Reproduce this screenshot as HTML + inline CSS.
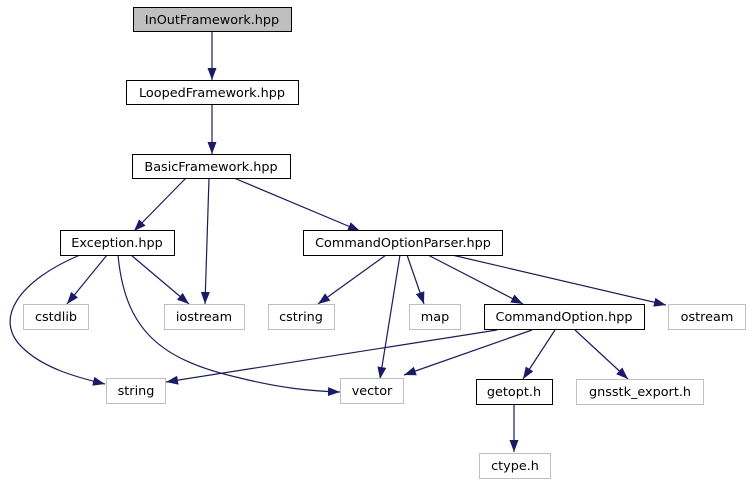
<!DOCTYPE html>
<html><head><meta charset="utf-8"><style>
html,body{margin:0;padding:0;background:#fff;}
svg text{font-family:"DejaVu Sans","Liberation Sans",sans-serif;font-size:12.8px;text-anchor:middle;fill:#000;}
</style></head><body>
<svg width="750" height="485" viewBox="0 0 750 485" xmlns="http://www.w3.org/2000/svg">
<defs>
<marker id="a" viewBox="0 0 12 10" refX="12" refY="5" markerWidth="12" markerHeight="10" markerUnits="userSpaceOnUse" orient="auto">
<path d="M0,0.5 L12,5 L0,9.5 z" fill="#191970"/>
</marker>
</defs>
<g fill="none" stroke="#191970" stroke-width="1.2" marker-end="url(#a)">
<path d="M212,31 L212,80"/>
<path d="M212,104 L212,154"/>
<path d="M186,178 L134,231"/>
<path d="M209,178 L205,304"/>
<path d="M234,178 L360,231"/>
<path d="M107,255 L67,304"/>
<path d="M131,255 L189,304"/>
<path d="M80,255 C20,280 -10,320 25,350 C45,368 75,377 105,384"/>
<path d="M118,255 C125,330 160,360 240,378 C280,388 310,391 340,392"/>
<path d="M386,255 L318,304"/>
<path d="M400,255 L380,379"/>
<path d="M407,255 L424,304"/>
<path d="M428,255 L523,304"/>
<path d="M452,255 L666,305"/>
<path d="M497,330 L166,382"/>
<path d="M532,330 L404,375"/>
<path d="M555,330 L523,379"/>
<path d="M575,330 L628,379"/>
<path d="M514,404 L514,452"/>
</g>
<g stroke-width="1">
<rect x="133.5" y="7.5" width="158" height="24" fill="#bfbfbf" stroke="#000"/>
<rect x="126.5" y="80.5" width="172" height="24" fill="#fff" stroke="#000"/>
<rect x="132.5" y="154.5" width="158" height="24" fill="#fff" stroke="#000"/>
<rect x="60.5" y="230.5" width="114" height="25" fill="#fff" stroke="#000"/>
<rect x="303.5" y="230.5" width="199" height="25" fill="#fff" stroke="#000"/>
<rect x="23.5" y="304.5" width="65" height="25" fill="#fff" stroke="#bfbfbf"/>
<rect x="164.5" y="304.5" width="80" height="25" fill="#fff" stroke="#bfbfbf"/>
<rect x="268.5" y="304.5" width="66" height="25" fill="#fff" stroke="#bfbfbf"/>
<rect x="409.5" y="304.5" width="51" height="25" fill="#fff" stroke="#bfbfbf"/>
<rect x="484.5" y="304.5" width="160" height="25" fill="#fff" stroke="#000"/>
<rect x="668.5" y="304.5" width="77" height="25" fill="#fff" stroke="#bfbfbf"/>
<rect x="106.5" y="378.5" width="59" height="25" fill="#fff" stroke="#bfbfbf"/>
<rect x="340.5" y="378.5" width="63" height="25" fill="#fff" stroke="#bfbfbf"/>
<rect x="476.5" y="379.5" width="76" height="25" fill="#fff" stroke="#000"/>
<rect x="576.5" y="379.5" width="127" height="25" fill="#fff" stroke="#bfbfbf"/>
<rect x="479.5" y="453.5" width="71" height="25" fill="#fff" stroke="#bfbfbf"/>
</g>
<text x="212" y="24">InOutFramework.hpp</text>
<text x="212" y="97">LoopedFramework.hpp</text>
<text x="211" y="171">BasicFramework.hpp</text>
<text x="117" y="247">Exception.hpp</text>
<text x="403" y="247">CommandOptionParser.hpp</text>
<text x="56" y="321">cstdlib</text>
<text x="204" y="321">iostream</text>
<text x="301" y="321">cstring</text>
<text x="435" y="321">map</text>
<text x="564" y="321">CommandOption.hpp</text>
<text x="707" y="321">ostream</text>
<text x="136" y="395">string</text>
<text x="372" y="395">vector</text>
<text x="514" y="396">getopt.h</text>
<text x="640" y="396">gnsstk_export.h</text>
<text x="515" y="470">ctype.h</text>
</svg>
</body></html>
